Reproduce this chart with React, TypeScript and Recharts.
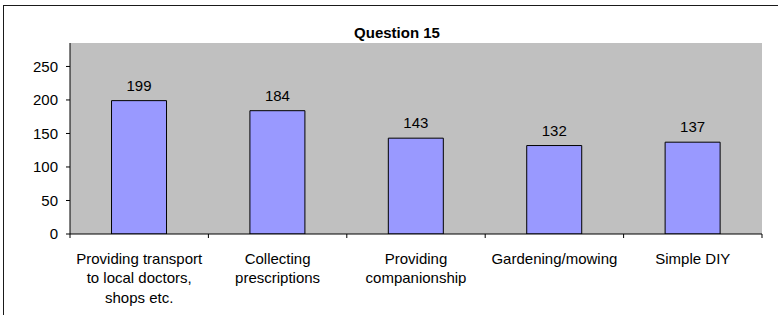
import React from 'react';
import { BarChart, Bar, XAxis, YAxis, CartesianGrid, LabelList } from 'recharts';

const title = 'Question 15';
const categories = [
  'Providing transport\nto local doctors,\nshops etc.',
  'Collecting\nprescriptions',
  'Providing\ncompanionship',
  'Gardening/mowing',
  'Simple DIY',
];
const values = [199, 184, 143, 132, 137];
const yTicks = [0, 50, 100, 150, 200, 250];
const yMax = 285;

const data = categories.map((name, i) => ({ name, value: values[i] }));

const W = 778;
const H = 315;
const MARGIN = { top: 43, right: 16, bottom: 0, left: 0 };
const Y_AXIS_W = 70;
const X_AXIS_H = 81;
const FONT = '"Liberation Sans", Arial, Helvetica, sans-serif';
const PLOT_W = W - MARGIN.left - MARGIN.right - Y_AXIS_W;
const HALF_BAND = PLOT_W / categories.length / 2;

const XTick = (props: any) => {
  const { x, y, payload, index } = props;
  const lines = String(payload.value).split('\n');
  const isLast = index === categories.length - 1;
  return (
    <g>
      <line x1={x - HALF_BAND} x2={x - HALF_BAND} y1={y} y2={y + 4} stroke="#000" strokeWidth={1} />
      {isLast && (
        <line x1={x + HALF_BAND} x2={x + HALF_BAND} y1={y} y2={y + 4} stroke="#000" strokeWidth={1} />
      )}
      <text textAnchor="middle" fontSize={15} fontFamily={FONT} fill="#000">
        {lines.map((l, i) => (
          <tspan key={i} x={x} y={y + 29.5 + i * 19.5}>
            {l}
          </tspan>
        ))}
      </text>
    </g>
  );
};

export default function App() {
  return (
    <div
      style={{
        position: 'absolute',
        left: 0,
        top: 0,
        width: W,
        height: H,
        overflow: 'hidden',
        background: '#fff',
      }}
    >
      <div
        style={{
          position: 'absolute',
          left: 3,
          top: 5,
          width: 900,
          height: 500,
          border: '1.5px solid #1a1a1a',
        }}
      />
      <div
        style={{
          position: 'absolute',
          left: 397,
          top: 25,
          transform: 'translateX(-50%)',
          fontFamily: FONT,
          fontWeight: 'bold',
          fontSize: 15,
          lineHeight: '15px',
          whiteSpace: 'nowrap',
          color: '#000',
        }}
      >
        {title}
      </div>
      <div style={{ position: 'absolute', left: 0, top: 0 }}>
        <BarChart width={W} height={H} data={data} margin={MARGIN} barCategoryGap="30%">
          <CartesianGrid horizontal={false} vertical={false} fill="#C0C0C0" />
          <XAxis
            xAxisId="top"
            dataKey="name"
            orientation="top"
            height={0}
            tick={false}
            tickLine={false}
            axisLine={{ stroke: '#808080', strokeWidth: 1.5 }}
          />
          <YAxis
            yAxisId="right"
            orientation="right"
            type="number"
            domain={[0, 1]}
            width={0}
            tick={false}
            tickLine={false}
            axisLine={{ stroke: '#808080', strokeWidth: 1.5 }}
          />
          <XAxis
            dataKey="name"
            interval={0}
            height={X_AXIS_H}
            tickSize={0}
            tickMargin={0}
            tickLine={false}
            axisLine={{ stroke: '#000', strokeWidth: 1 }}
            tick={<XTick />}
          />
          <YAxis
            type="number"
            domain={[0, yMax]}
            ticks={yTicks}
            interval={0}
            width={Y_AXIS_W}
            tickSize={4}
            tickMargin={8}
            tickLine={{ stroke: '#000' }}
            axisLine={{ stroke: '#000', strokeWidth: 1 }}
            tick={{ fill: '#000', fontSize: 15, fontFamily: FONT }}
            allowDataOverflow
          />
          <Bar dataKey="value" fill="#9999FF" stroke="#000" strokeWidth={1} isAnimationActive={false}>
            <LabelList
              dataKey="value"
              position="top"
              offset={10}
              fill="#000"
              fontSize={15}
              fontFamily={FONT}
            />
          </Bar>
        </BarChart>
      </div>
    </div>
  );
}
